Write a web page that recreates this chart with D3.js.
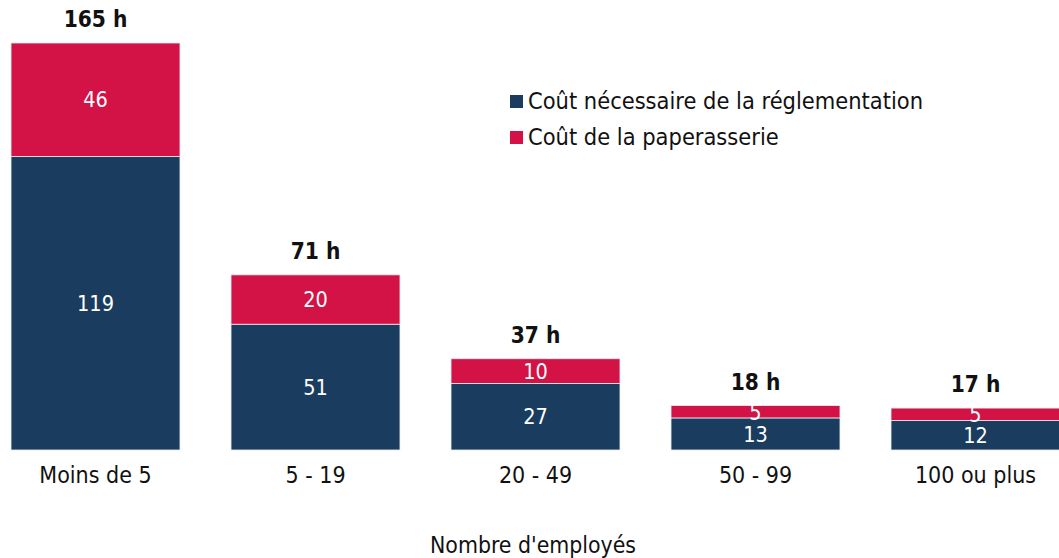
<!DOCTYPE html>
<html><head><meta charset="utf-8">
<script src="https://cdn.jsdelivr.net/npm/d3@7"></script>
<style>body{margin:0;background:#fff}svg{display:block}text{font-family:"DejaVu Sans Condensed","DejaVu Sans",Verdana,sans-serif}</style>
</head><body><svg id="c" width="1059" height="558"></svg>
<script>
const categories = ["Moins de 5", "5 - 19", "20 - 49", "50 - 99", "100 ou plus"];
const necessaire = [119, 51, 27, 13, 12];
const paperasserie = [46, 20, 10, 5, 5];
const totals = [165, 71, 37, 18, 17];
const seriesNames = ["Coût nécessaire de la réglementation", "Coût de la paperasserie"];
const colors = ["#1a3c5e", "#d31245"];
const xTitle = "Nombre d'employés";
const FONT = "'DejaVu Sans Condensed','DejaVu Sans',Verdana,sans-serif";

const svg = d3.select("#c");
const x = d3.scaleBand().domain(categories).range([-14.5, 1085.5]).paddingInner(0.232).paddingOuter(0.116);
const y = d3.scaleLinear().domain([0, 165]).range([450, 43]);

const rows = categories.map((c, i) => ({cat: c, a: necessaire[i], b: paperasserie[i], t: totals[i]}));
const stack = d3.stack().keys(["a", "b"])(rows);

stack.forEach((s, si) => {
  const g = svg.append("g");
  g.selectAll("rect").data(s).join("rect")
    .attr("x", d => x(d.data.cat)).attr("width", x.bandwidth())
    .attr("y", d => y(d[1])).attr("height", d => y(d[0]) - y(d[1]))
    .attr("fill", colors[si]).attr("stroke", "#e8ecf0").attr("stroke-width", 0.8);
  g.selectAll("text").data(s).join("text")
    .attr("x", d => x(d.data.cat) + x.bandwidth() / 2)
    .attr("y", d => (y(d[0]) + y(d[1])) / 2)
    .attr("dy", "0.36em").attr("text-anchor", "middle")
    .attr("fill", "#fff").attr("font-size", 21.5)
    .text(d => d[1] - d[0]);
});

svg.append("g").selectAll("text").data(rows).join("text")
  .attr("x", d => x(d.cat) + x.bandwidth() / 2)
  .attr("y", d => y(d.t) - 24).attr("dy", "0.36em")
  .attr("text-anchor", "middle").attr("font-size", 22.5).attr("font-weight", "bold")
  .attr("fill", "#111").text(d => d.t + " h");

const xAxis = svg.append("g").attr("transform", "translate(0,450)")
  .call(d3.axisBottom(x).tickSize(0).tickPadding(20));
xAxis.select(".domain").remove();
xAxis.selectAll("text").attr("font-size", 23).attr("fill", "#111").attr("dy", "0.55em")
  .style("font-family", FONT);

svg.append("text").attr("x", 533).attr("y", 545).attr("dy", "0.36em")
  .attr("text-anchor", "middle").attr("font-size", 22.8).attr("fill", "#111").text(xTitle);

const leg = svg.append("g").selectAll("g").data(seriesNames).join("g")
  .attr("transform", (d, i) => `translate(510,${101 + i * 36})`);
leg.append("rect").attr("x", 0).attr("y", -6).attr("width", 13).attr("height", 13)
  .attr("fill", (d, i) => colors[i]);
leg.append("text").attr("x", 18).attr("dy", "0.36em").attr("font-size", 23.4)
  .attr("fill", "#111").text(d => d);
</script></body></html>
